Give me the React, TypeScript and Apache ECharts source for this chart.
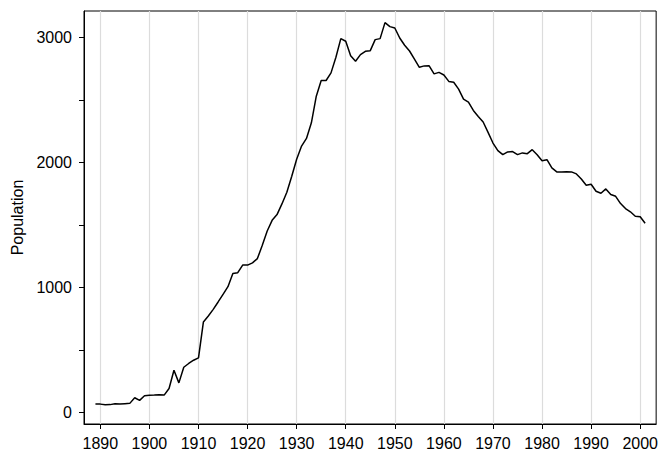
import React, { useEffect, useRef } from "react";
import * as echarts from "echarts";

const years = [
  1889, 1890, 1891, 1892, 1893, 1894, 1895, 1896, 1897, 1898, 1899,
  1900, 1901, 1902, 1903, 1904, 1905, 1906, 1907, 1908, 1909,
  1910, 1911, 1912, 1913, 1914, 1915, 1916, 1917, 1918, 1919,
  1920, 1921, 1922, 1923, 1924, 1925, 1926, 1927, 1928, 1929,
  1930, 1931, 1932, 1933, 1934, 1935, 1936, 1937, 1938, 1939,
  1940, 1941, 1942, 1943, 1944, 1945, 1946, 1947, 1948, 1949,
  1950, 1951, 1952, 1953, 1954, 1955, 1956, 1957, 1958, 1959,
  1960, 1961, 1962, 1963, 1964, 1965, 1966, 1967, 1968, 1969,
  1970, 1971, 1972, 1973, 1974, 1975, 1976, 1977, 1978, 1979,
  1980, 1981, 1982, 1983, 1984, 1985, 1986, 1987, 1988, 1989,
  1990, 1991, 1992, 1993, 1994, 1995, 1996, 1997, 1998, 1999,
  2000, 2001,
];

const population = [
  66, 66, 61, 62, 69, 66, 69, 72, 117, 96, 133,
  136, 138, 141, 138, 191, 337, 236, 361, 391, 417,
  436, 723, 771, 824, 883, 944, 1005, 1111, 1117, 1178,
  1178, 1196, 1230, 1336, 1451, 1536, 1582, 1667, 1760, 1888,
  2025, 2130, 2191, 2316, 2529, 2654, 2654, 2715, 2840, 2989,
  2968, 2853, 2808, 2861, 2888, 2893, 2981, 2989, 3117, 3085,
  3074, 2994, 2936, 2890, 2825, 2760, 2771, 2772, 2707, 2719,
  2698, 2647, 2640, 2585, 2505, 2481, 2415, 2367, 2322, 2239,
  2154, 2093, 2061, 2083, 2086, 2061, 2075, 2069, 2101, 2061,
  2013, 2021, 1955, 1923, 1923, 1925, 1923, 1907, 1867, 1816,
  1824, 1768, 1752, 1787, 1742, 1728, 1670, 1630, 1604, 1569,
  1564, 1513,
];

const xTickYears = [1890, 1900, 1910, 1920, 1930, 1940, 1950, 1960, 1970, 1980, 1990, 2000];
const yTickValues = [0, 500, 1000, 1500, 2000, 2500, 3000];
const yLabelValues = [0, 1000, 2000, 3000];

const FONT = "'Liberation Sans', Arial, Helvetica, sans-serif";

export default function App() {
  const ref = useRef<HTMLDivElement>(null);

  useEffect(() => {
    if (!ref.current) return;
    const chart = echarts.init(ref.current, undefined, { renderer: "svg" });
    const lineData = years.map((y, i) => [y, population[i]]);
    chart.setOption({
      animation: false,
      backgroundColor: "#ffffff",
      textStyle: { fontFamily: FONT },
      grid: {
        left: 84,
        right: 3,
        top: 11,
        bottom: 26,
        show: true,
        borderColor: "#000000",
        borderWidth: 1,
        backgroundColor: "transparent",
      },
      xAxis: {
        type: "value",
        min: 1886.67,
        max: 2003.25,
        axisLine: { show: true, onZero: false, lineStyle: { color: "#000000", width: 1 } },
        axisTick: {
          show: true,
          customValues: xTickYears,
          length: 5,
          lineStyle: { color: "#000000", width: 1 },
        },
        axisLabel: {
          customValues: xTickYears,
          formatter: (v: number) => String(v),
          color: "#000000",
          fontSize: 16,
          fontFamily: FONT,
          margin: 11,
        },
        splitLine: { show: false },
      },
      yAxis: {
        type: "value",
        min: -93,
        max: 3210,
        name: "Population",
        nameLocation: "middle",
        nameRotate: 90,
        nameGap: 59,
        nameTextStyle: { color: "#000000", fontSize: 16, fontFamily: FONT },
        axisLine: { show: true, onZero: false, lineStyle: { color: "#000000", width: 1 } },
        axisTick: {
          show: true,
          customValues: yTickValues,
          length: 5,
          lineStyle: { color: "#000000", width: 1 },
        },
        axisLabel: {
          customValues: yLabelValues,
          formatter: (v: number) => String(v),
          color: "#000000",
          fontSize: 16,
          fontFamily: FONT,
          margin: 12,
        },
        splitLine: { show: false },
      },
      series: [
        {
          type: "line",
          data: [],
          z: 1,
          silent: true,
          markLine: {
            silent: true,
            symbol: ["none", "none"],
            z: 1,
            label: { show: false },
            lineStyle: { color: "#dcdcdc", type: "solid", width: 1.2 },
            emphasis: { disabled: true },
            data: xTickYears.map((y) => ({ xAxis: y })),
          },
        },
        {
          type: "line",
          data: lineData,
          z: 5,
          showSymbol: false,
          symbol: "none",
          lineStyle: { color: "#000000", width: 1.5 },
          silent: true,
        },
      ],
    });
    return () => chart.dispose();
  }, []);

  return (
    <div
      ref={ref}
      style={{ position: "fixed", left: 0, top: 0, width: 661, height: 451, background: "#fff" }}
    />
  );
}
